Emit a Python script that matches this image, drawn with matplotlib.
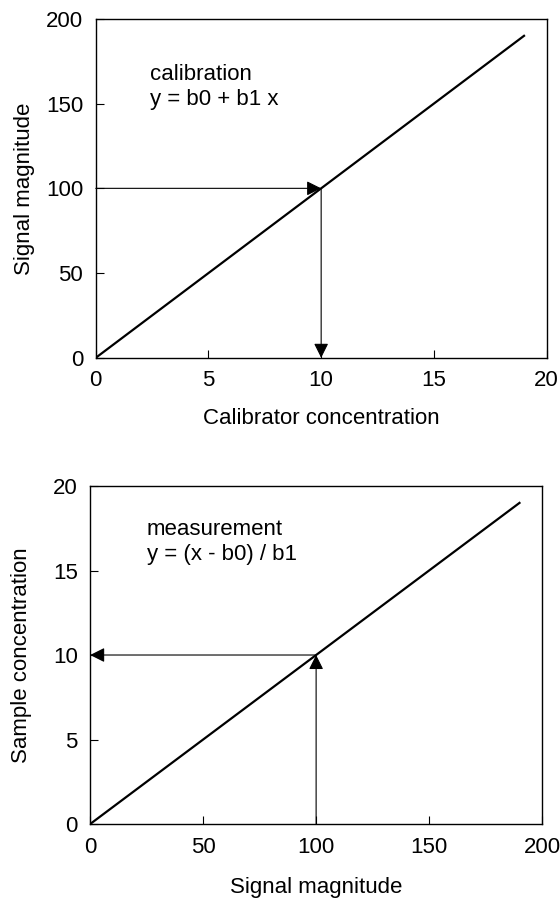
import numpy as np
import matplotlib.pyplot as plt

plt.rcParams['font.family'] = ['Liberation Sans', 'DejaVu Sans']
plt.rcParams['font.size'] = 16

# calibration line y = b0 + b1 x
b0 = 0
b1 = 10
calib_x = [0, 19]
calib_y = [b0 + b1 * v for v in calib_x]

# one calibrator / sample
calib_conc = 10
signal = 100
sample_conc = (signal - b0) / b1

meas_x = [0, 190]
meas_y = [(v - b0) / b1 for v in meas_x]

fig = plt.figure(figsize=(5.6, 8.99), dpi=100)
ax1 = fig.add_axes([0.171, 0.602, 0.805, 0.377])
ax2 = fig.add_axes([0.161, 0.0834, 0.807, 0.376])

arrow = dict(arrowstyle='-|>', color='black', lw=0.8, mutation_scale=22,
             shrinkA=0, shrinkB=0)

# top: calibration
ax1.plot(calib_x, calib_y, color='black', lw=1.6)
ax1.annotate('', xy=(calib_conc, signal), xytext=(0, signal), arrowprops=arrow)
ax1.annotate('', xy=(calib_conc, 0), xytext=(calib_conc, signal), arrowprops=arrow)
ax1.text(2.4, 173.6, 'calibration\ny = b0 + b1 x', va='top', ha='left', linespacing=1.25)
ax1.set_xlim(0, 20)
ax1.set_ylim(0, 200)
ax1.set_xticks([0, 5, 10, 15, 20])
ax1.set_yticks([0, 50, 100, 150, 200])
ax1.set_xlabel('Calibrator concentration', labelpad=12)
ax1.set_ylabel('Signal magnitude', labelpad=8)

# bottom: measurement
ax2.plot(meas_x, meas_y, color='black', lw=1.6)
ax2.annotate('', xy=(signal, sample_conc), xytext=(signal, 0), arrowprops=arrow)
ax2.annotate('', xy=(0, sample_conc), xytext=(signal, sample_conc), arrowprops=arrow)
ax2.text(25, 18.05, 'measurement\ny = (x - b0) / b1', va='top', ha='left', linespacing=1.25)
ax2.set_xlim(0, 200)
ax2.set_ylim(0, 20)
ax2.set_xticks([0, 50, 100, 150, 200])
ax2.set_yticks([0, 5, 10, 15, 20])
ax2.set_xlabel('Signal magnitude', labelpad=14)
ax2.set_ylabel('Sample concentration', labelpad=15)

for ax in (ax1, ax2):
    ax.tick_params(direction='in', length=6, width=0.8, pad=9, labelsize=16)
    for s in ax.spines.values():
        s.set_linewidth(1.0)

fig.savefig('out.png', dpi=100)
